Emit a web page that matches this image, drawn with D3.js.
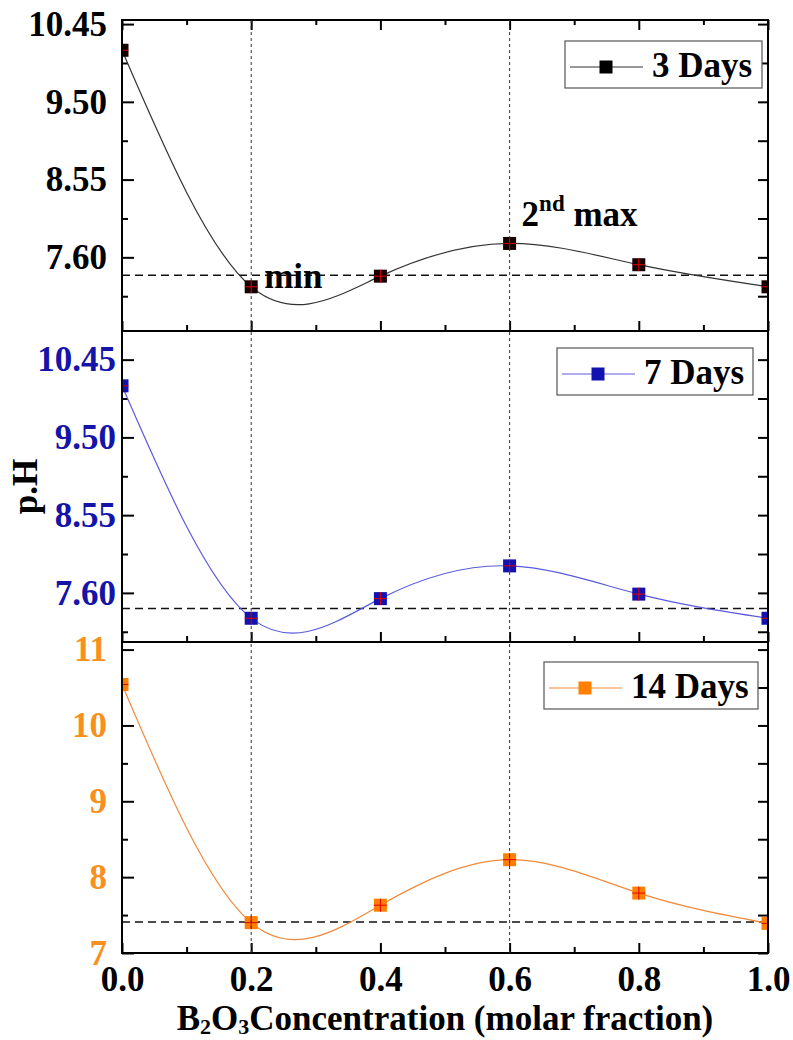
<!DOCTYPE html>
<html>
<head>
<meta charset="utf-8">
<script src="https://cdn.jsdelivr.net/npm/d3@7/dist/d3.min.js"></script>
<style>
  body { margin: 0; background: #fff; }
  svg text { font-family: "Liberation Serif", "Times New Roman", serif; font-weight: bold; }
</style>
</head>
<body>
<div id="chart"></div>
<script>
// Data
var conc = [0.0, 0.2, 0.4, 0.6, 0.8, 1.0];
var ph3 = [10.13, 7.24, 7.37, 7.77, 7.51, 7.24];
var ph7 = [10.13, 7.29, 7.53, 7.93, 7.585, 7.29];
var ph14 = [10.54, 7.40, 7.63, 8.23, 7.79, 7.39];
var refLevels = [7.38, 7.41, 7.41];
var markConc = [0.2, 0.6];

var xTicks = [0.0, 0.2, 0.4, 0.6, 0.8, 1.0];
var xMinor = [0.1, 0.3, 0.5, 0.7, 0.9];
var yTicksA = [7.60, 8.55, 9.50, 10.45];
var yMinorA = [7.125, 8.075, 9.025, 9.975];
var yTicks14 = [7, 8, 9, 10, 11];
var yMinor14 = [7.5, 8.5, 9.5, 10.5];
var seriesNames = ["3 Days", "7 Days", "14 Days"];

// Layout
var svgWidth = 793;
var svgHeight = 1040;
var margin = { top: 20, left: 122, right: 25 };
var chartWidth = svgWidth - margin.left - margin.right;
var panelHeight = 311;
var fontSize = "35px";

var svg = d3.select("#chart")
  .append("svg")
  .attr("width", svgWidth)
  .attr("height", svgHeight);

var xScale = d3.scaleLinear()
  .domain([0, 1])
  .range([0, chartWidth]);

// one entry per stacked panel
var panels = [
  { name: seriesNames[0], values: ph3, ref: refLevels[0], domain: [6.7, 10.5],
    major: yTicksA, minor: yMinorA, fmt: d3.format(".2f"),
    tickColor: "#000", lineColor: "#333", fill: "#150000", pad: 15,
    legend: { x: 565, w: 197, dy: 21 }, topTicks: true },
  { name: seriesNames[1], values: ph7, ref: refLevels[1], domain: [7.0, 10.8],
    major: yTicksA, minor: yMinorA, fmt: d3.format(".2f"),
    tickColor: "#1414a8", lineColor: "#5a5ae0", fill: "#1212b0", pad: 6,
    legend: { x: 557, w: 196, dy: 17 }, topTicks: false },
  { name: seriesNames[2], values: ph14, ref: refLevels[2], domain: [7, 11.1],
    major: yTicks14, minor: yMinor14, fmt: d3.format("d"),
    tickColor: "#f7901e", lineColor: "#f08a3a", fill: "#ff8000", pad: 15,
    legend: { x: 544, w: 214, dy: 20 }, topTicks: false }
];

var markerSize = 13;

panels.forEach(function(p, i) {
  var top = margin.top + i * panelHeight;
  var g = svg.append("g")
    .attr("transform", `translate(${margin.left}, ${top})`);

  var yScale = d3.scaleLinear()
    .domain(p.domain)
    .range([panelHeight, 0]);

  // clip for curve + half-cut edge markers
  g.append("clipPath")
    .attr("id", "clip" + i)
    .append("rect")
    .attr("width", chartWidth)
    .attr("height", panelHeight);

  // left axis: major with labels, minor without
  var leftAxis = d3.axisLeft(yScale)
    .tickValues(p.major)
    .tickFormat(p.fmt)
    .tickSizeInner(-12)
    .tickSizeOuter(0)
    .tickPadding(p.pad);
  var gl = g.append("g").call(leftAxis);
  gl.select(".domain").remove();
  gl.selectAll("line").attr("stroke", "#000").attr("stroke-width", 2);
  gl.selectAll("text")
    .attr("fill", p.tickColor)
    .attr("font-size", fontSize);

  var gm = g.append("g").call(d3.axisLeft(yScale).tickValues(p.minor).tickSize(-6).tickFormat(""));
  gm.select(".domain").remove();
  gm.selectAll("line").attr("stroke", "#000").attr("stroke-width", 2);

  // right axis ticks, no labels
  var gr = g.append("g")
    .attr("transform", `translate(${chartWidth}, 0)`)
    .call(d3.axisRight(yScale).tickValues(p.major.concat(p.minor)).tickSize(-10).tickFormat(""));
  gr.select(".domain").remove();
  gr.selectAll("line").attr("stroke", "#000").attr("stroke-width", 2);

  // bottom ticks pointing up
  var gb = g.append("g")
    .attr("transform", `translate(0, ${panelHeight})`)
    .call(d3.axisBottom(xScale).tickValues(xTicks).tickSize(-10).tickFormat(""));
  gb.select(".domain").remove();
  gb.selectAll("line").attr("stroke", "#000").attr("stroke-width", 2);
  var gbm = g.append("g")
    .attr("transform", `translate(0, ${panelHeight})`)
    .call(d3.axisBottom(xScale).tickValues(xMinor).tickSize(-6).tickFormat(""));
  gbm.select(".domain").remove();
  gbm.selectAll("line").attr("stroke", "#000").attr("stroke-width", 2);

  if (p.topTicks) {
    var gt = g.append("g")
      .call(d3.axisTop(xScale).tickValues(xTicks).tickSize(-10).tickFormat(""));
    gt.select(".domain").remove();
    gt.selectAll("line").attr("stroke", "#000").attr("stroke-width", 2);
    var gtm = g.append("g")
      .call(d3.axisTop(xScale).tickValues(xMinor).tickSize(-5).tickFormat(""));
    gtm.select(".domain").remove();
    gtm.selectAll("line").attr("stroke", "#000").attr("stroke-width", 2);
  }

  // reference dashed line
  g.append("line")
    .attr("x1", 0)
    .attr("x2", chartWidth)
    .attr("y1", yScale(p.ref))
    .attr("y2", yScale(p.ref))
    .attr("stroke", "#111")
    .attr("stroke-width", 1.5)
    .attr("stroke-dasharray", "8,5");

  // smooth curve
  var pts = conc.map(function(c, k) { return [c, p.values[k]]; });
  var line = d3.line()
    .x(d => xScale(d[0]))
    .y(d => yScale(d[1]))
    .curve(d3.curveNatural);

  var plot = g.append("g").attr("clip-path", `url(#clip${i})`);
  plot.append("path")
    .datum(pts)
    .attr("d", line)
    .attr("fill", "none")
    .attr("stroke", p.lineColor)
    .attr("stroke-width", 1.2);

  // square markers with red cross
  var marks = plot.selectAll(".mark")
    .data(pts)
    .enter()
    .append("g")
    .attr("class", "mark")
    .attr("transform", d => `translate(${xScale(d[0])}, ${yScale(d[1])})`);
  marks.append("rect")
    .attr("x", -markerSize / 2)
    .attr("y", -markerSize / 2)
    .attr("width", markerSize)
    .attr("height", markerSize)
    .attr("fill", p.fill);
  marks.append("path")
    .attr("d", `M${-markerSize / 2},0H${markerSize / 2}M0,${-markerSize / 2}V${markerSize / 2}`)
    .attr("stroke", "#e00000")
    .attr("stroke-width", 1);

  // legend
  var lg = g.append("g")
    .attr("transform", `translate(${p.legend.x - margin.left}, ${p.legend.dy})`);
  lg.append("rect")
    .attr("width", p.legend.w)
    .attr("height", 47)
    .attr("fill", "#fff")
    .attr("stroke", "#555")
    .attr("stroke-width", 1.2);
  lg.append("line")
    .attr("x1", 5)
    .attr("x2", 78)
    .attr("y1", 26)
    .attr("y2", 26)
    .attr("stroke", p.lineColor)
    .attr("stroke-width", 1.2);
  lg.append("rect")
    .attr("x", 41 - markerSize / 2)
    .attr("y", 26 - markerSize / 2)
    .attr("width", markerSize)
    .attr("height", markerSize)
    .attr("fill", i === 0 ? "#000" : p.fill);
  lg.append("text")
    .attr("x", 87)
    .attr("y", 36)
    .attr("font-size", fontSize)
    .attr("fill", "#000")
    .text(p.name);

  // panel frame
  g.append("rect")
    .attr("width", chartWidth)
    .attr("height", panelHeight)
    .attr("fill", "none")
    .attr("stroke", "#000")
    .attr("stroke-width", 2);

  // annotations on the top panel
  if (i === 0) {
    g.append("text")
      .attr("x", xScale(0.2) + 13)
      .attr("y", yScale(p.values[1]) + 1)
      .attr("font-size", fontSize)
      .text("min");

    var ann = g.append("text")
      .attr("x", xScale(0.6) + 12)
      .attr("y", yScale(p.values[3]) - 17)
      .attr("font-size", fontSize);
    ann.append("tspan").text("2");
    ann.append("tspan").attr("font-size", "23px").attr("dy", -15).text("nd");
    ann.append("tspan").attr("dy", 15).text(" max");
  }
});

// vertical dotted guides through all panels
var bottomY = margin.top + 3 * panelHeight;
svg.append("g")
  .selectAll("line")
  .data(markConc)
  .enter()
  .append("line")
  .attr("x1", d => margin.left + xScale(d))
  .attr("x2", d => margin.left + xScale(d))
  .attr("y1", margin.top)
  .attr("y2", bottomY)
  .attr("stroke", "#333")
  .attr("stroke-width", 1)
  .attr("stroke-dasharray", "3,3");

// x axis labels
var xAxis = d3.axisBottom(xScale)
  .tickValues(xTicks)
  .tickFormat(d3.format(".1f"))
  .tickSize(0)
  .tickPadding(13);
var gx = svg.append("g")
  .attr("transform", `translate(${margin.left}, ${bottomY})`)
  .call(xAxis);
gx.select(".domain").remove();
gx.selectAll("text")
  .attr("fill", "#000")
  .attr("font-size", fontSize);

// x axis title with subscripts
var xt = svg.append("text")
  .attr("x", margin.left + chartWidth / 2)
  .attr("y", 1030)
  .attr("text-anchor", "middle")
  .attr("font-size", fontSize);
xt.append("tspan").text("B");
xt.append("tspan").attr("font-size", "22px").attr("dy", 4).text("2");
xt.append("tspan").attr("dy", -4).text("O");
xt.append("tspan").attr("font-size", "22px").attr("dy", 4).text("3");
xt.append("tspan").attr("dy", -4).text("Concentration (molar fraction)");

// y axis title
svg.append("text")
  .attr("transform", `translate(37, ${margin.top + 1.5 * panelHeight}) rotate(-90)`)
  .attr("text-anchor", "middle")
  .attr("font-size", fontSize)
  .text("p.H");
</script>
</body>
</html>
